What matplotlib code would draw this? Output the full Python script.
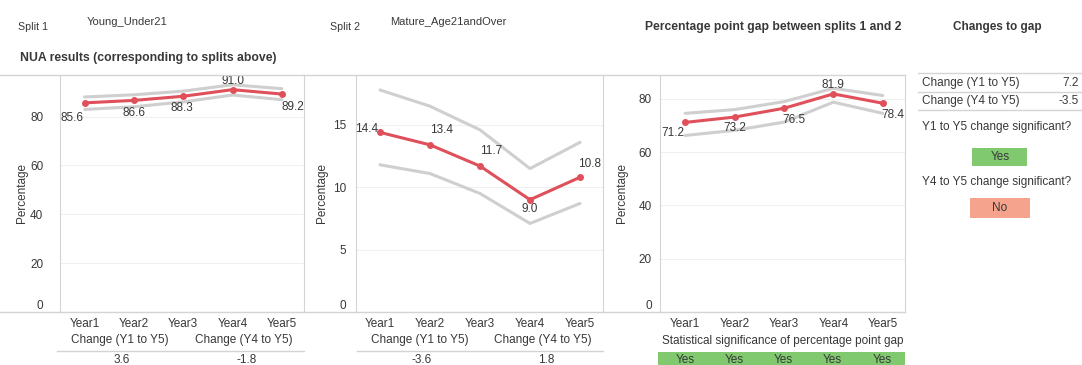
import matplotlib.pyplot as plt
from matplotlib.lines import Line2D
from matplotlib.patches import Rectangle

plt.rcParams['font.family'] = ['Liberation Sans', 'DejaVu Sans']

W, H = 1082, 365

years = ['Year1', 'Year2', 'Year3', 'Year4', 'Year5']

split1 = [85.6, 86.6, 88.3, 91.0, 89.2]
split1_upper = [88.0, 88.9, 90.4, 93.0, 91.4]
split1_lower = [82.9, 84.0, 86.0, 88.8, 86.9]

split2 = [14.4, 13.4, 11.7, 9.0, 10.8]
split2_upper = [17.8, 16.5, 14.6, 11.5, 13.6]
split2_lower = [11.8, 11.1, 9.5, 7.1, 8.7]

gap = [71.2, 73.2, 76.5, 81.9, 78.4]
gap_upper = [74.6, 76.0, 79.0, 84.0, 81.3]
gap_lower = [66.3, 68.2, 71.3, 78.8, 74.6]

split1_changes = ['3.6', '-1.8']
split2_changes = ['-3.6', '1.8']
gap_sig = ['Yes', 'Yes', 'Yes', 'Yes', 'Yes']
gap_changes = [('Change (Y1 to Y5)', '7.2'), ('Change (Y4 to Y5)', '-3.5')]
sig_y1y5 = 'Yes'
sig_y4y5 = 'No'

RED = '#e0505a'
GREY = '#cfcfcf'
LINE = '#d4d4d4'
TXT = '#383838'
GREEN = '#80c96f'
SALMON = '#f5a38c'

fig = plt.figure(figsize=(W / 100, H / 100), dpi=100)


def fx(x):
    return x / W


def fy(y):
    return 1 - y / H


def ftext(x, y, s, **kw):
    kw.setdefault('color', TXT)
    kw.setdefault('fontsize', 8.5)
    fig.text(fx(x), fy(y), s, **kw)


def hline(x0, x1, y, color=LINE, lw=1.0):
    fig.add_artist(Line2D([fx(x0), fx(x1)], [fy(y), fy(y)], color=color, lw=lw,
                          transform=fig.transFigure))


def panel(x0, x1, y0, y1, xlim, ylim, yticks, ypad):
    ax = fig.add_axes([fx(x0), fy(y1), (x1 - x0) / W, (y1 - y0) / H])
    ax.set_xlim(*xlim)
    ax.set_ylim(*ylim)
    ax.set_yticks(yticks)
    ax.set_xticks(range(5))
    ax.set_xticklabels(years)
    for s in ['top', 'bottom']:
        ax.spines[s].set_visible(False)
    for s in ['left', 'right']:
        ax.spines[s].set_color(LINE)
    ax.tick_params(length=0, labelsize=8.5, labelcolor=TXT)
    ax.tick_params(axis='y', pad=ypad)
    ax.tick_params(axis='x', pad=4)
    ax.grid(axis='y', color='#f0f0f0', lw=0.8)
    ax.set_axisbelow(True)
    ax.get_yticklabels()[0].set_va('bottom')
    return ax


def draw_series(ax, vals, upper, lower, offsets):
    x = range(len(vals))
    ax.plot(x, upper, color=GREY, lw=2.2, solid_capstyle='round')
    ax.plot(x, lower, color=GREY, lw=2.2, solid_capstyle='round')
    ax.plot(x, vals, color=RED, lw=2.2, marker='o', ms=4, clip_on=False)
    for i, v in enumerate(vals):
        dx, dy, ha = offsets[i]
        ax.annotate(f'{v:.1f}', (i, v), xytext=(dx * 0.72, dy * 0.72),
                    textcoords='offset points', ha=ha, va='center',
                    fontsize=8.5, color=TXT, annotation_clip=False)


# headers
ftext(18, 27, 'Split 1', fontsize=7.7, va='center')
ftext(87, 22, 'Young_Under21', fontsize=8, va='center')
ftext(330, 27, 'Split 2', fontsize=7.7, va='center')
ftext(390, 22, 'Mature_Age21andOver', fontsize=8, va='center')
ftext(773, 27, 'Percentage point gap between splits 1 and 2', fontsize=8.7,
      fontweight='bold', ha='center', va='center')
ftext(997, 27, 'Changes to gap', fontsize=8.5, fontweight='bold',
      ha='center', va='center')
ftext(20, 58, 'NUA results (corresponding to splits above)', fontsize=8.8,
      fontweight='bold', va='center')

# frame lines across panels
for a, b in [(0, 304), (304, 603), (603, 905)]:
    hline(a, b, 75)
    hline(a, b, 312)

# panel 1
ax1 = panel(60, 304, 75, 312, (-0.5, 4.45), (0, 97), [0, 20, 40, 60, 80], 12)
draw_series(ax1, split1, split1_upper, split1_lower,
            [(-13, -15, 'center'), (0, -13, 'center'), (-1, -12, 'center'),
             (0, 9, 'center'), (11, -13, 'center')])
ftext(22, 193, 'Percentage', rotation=90, ha='center', va='center')

# panel 2
ax2 = panel(356, 603, 75, 312, (-0.48, 4.46), (0, 19), [0, 5, 10, 15], 7)
draw_series(ax2, split2, split2_upper, split2_lower,
            [(-2, 3, 'right'), (12, 15, 'center'), (11, 15, 'center'),
             (0, -9, 'center'), (10, 13, 'center')])
ftext(322, 193, 'Percentage', rotation=90, ha='center', va='center')

# panel 3
ax3 = panel(660, 905, 75, 312, (-0.51, 4.45), (0, 89), [0, 20, 40, 60, 80], 6)
draw_series(ax3, gap, gap_upper, gap_lower,
            [(-12, -11, 'center'), (0, -11, 'center'), (10, -12, 'center'),
             (0, 9, 'center'), (10, -12, 'center')])
ftext(622, 193, 'Percentage', rotation=90, ha='center', va='center')

# change rows below panels 1 and 2
for cx1, cx2, x0, x1, vals in [(120, 244, 57, 304, split1_changes),
                               (420, 543, 357, 603, split2_changes)]:
    ftext(cx1, 340, 'Change (Y1 to Y5)', ha='center', va='center')
    ftext(cx2, 340, 'Change (Y4 to Y5)', ha='center', va='center')
    hline(x0, x1, 351)
    ftext(cx1 + 2, 360, vals[0], ha='center', va='center')
    ftext(cx2 + 3, 360, vals[1], ha='center', va='center')

# significance strip below panel 3
ftext(783, 341, 'Statistical significance of percentage point gap',
      ha='center', va='center')
fig.add_artist(Rectangle((fx(658), fy(370)), (905 - 658) / W, (370 - 352) / H,
                         facecolor=GREEN, edgecolor='none', transform=fig.transFigure))
for i, s in enumerate(gap_sig):
    ftext(685 + i * 49.25, 360, s, ha='center', va='center')

# changes to gap table
hline(918, 1082, 73)
hline(918, 1082, 92)
hline(918, 1082, 110)
for i, (lab, val) in enumerate(gap_changes):
    y = 83 + i * 18
    ftext(922, y, lab, va='center')
    ftext(1079, y, val, ha='right', va='center')

ftext(922, 127, 'Y1 to Y5 change significant?', va='center')
fig.add_artist(Rectangle((fx(972), fy(166)), 55 / W, 18 / H, facecolor=GREEN,
                         edgecolor='none', transform=fig.transFigure))
ftext(1000, 157, sig_y1y5, ha='center', va='center')

ftext(922, 182, 'Y4 to Y5 change significant?', va='center')
fig.add_artist(Rectangle((fx(970), fy(218)), 60 / W, 20 / H, facecolor=SALMON,
                         edgecolor='none', transform=fig.transFigure))
ftext(1000, 208, sig_y4y5, ha='center', va='center')

fig.savefig('out.png', dpi=100)
